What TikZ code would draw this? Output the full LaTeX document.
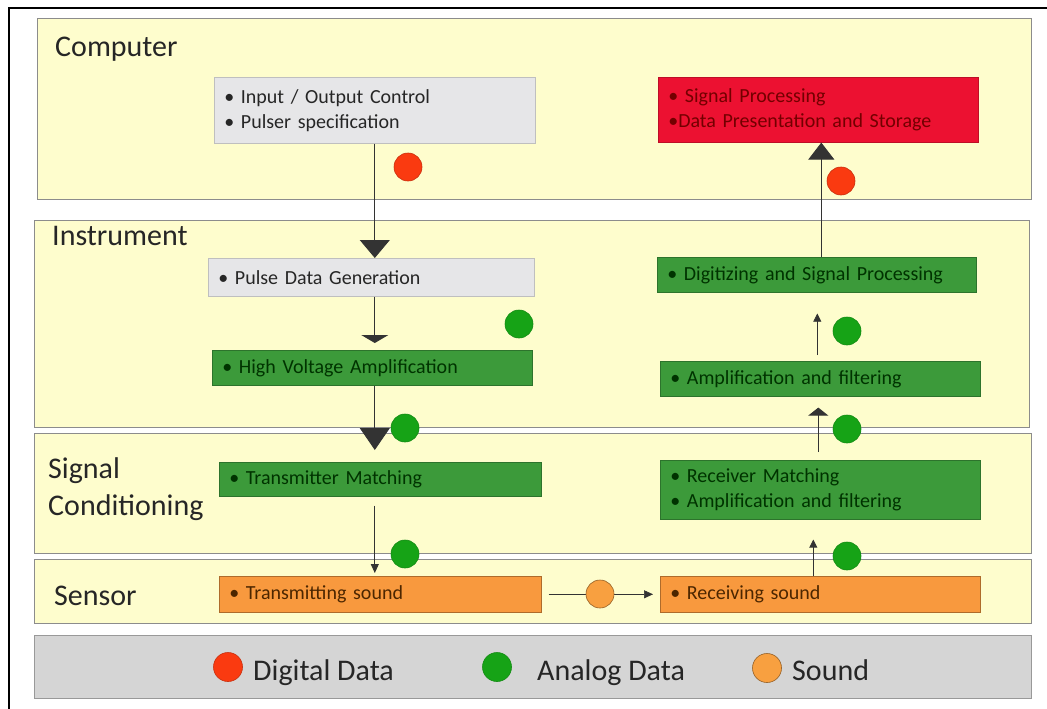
\documentclass[tikz,border=0pt]{standalone}
\usepackage{fontspec}
\setmainfont{Carlito}
\usetikzlibrary{arrows.meta}
\definecolor{bandyellow}{HTML}{FEFDCD}
\definecolor{boxgray}{HTML}{E6E6E8}
\definecolor{boxgreen}{HTML}{3C9A3A}
\definecolor{boxred}{HTML}{EC1131}
\definecolor{boxorange}{HTML}{F8993E}
\definecolor{legendgray}{HTML}{D5D5D5}
\definecolor{dotred}{HTML}{FA3A10}
\definecolor{dotgreen}{HTML}{16A316}
\definecolor{dotorange}{HTML}{F8A040}
\tikzset{
  band/.style={draw=black!45, line width=0.8pt, fill=bandyellow},
  bandlabel/.style={anchor=base west, inner sep=0pt, font=\fontsize{30}{37}\selectfont, text=black!85, align=left},
  box/.style={anchor=north west, inner xsep=10pt, inner ysep=0pt, align=left,
    font=\fontsize{20}{25}\selectfont, line width=0.6pt},
  graybox/.style={box, fill=boxgray, draw=black!25, text=black!85},
  greenbox/.style={box, fill=boxgreen, draw=boxgreen!75!black, text=black!80!green},
  redbox/.style={box, fill=boxred, draw=boxred!80!black, text=black!55!red},
  orangebox/.style={box, fill=boxorange, draw=boxorange!70!black, text=black!70!orange},
  conn/.style={draw=black!80, line width=0.9pt},
  dot/.style={circle, minimum size=28pt, inner sep=0pt, line width=0.6pt},
  rdot/.style={dot, fill=dotred, draw=dotred!80!black},
  gdot/.style={dot, fill=dotgreen, draw=dotgreen!85!black},
  odot/.style={dot, fill=dotorange, draw=dotorange!60!black},
  legtext/.style={anchor=base west, inner sep=0pt, font=\fontsize{30}{36}\selectfont, text=black!85}
}
\begin{document}
\begin{tikzpicture}[x=1pt,y=-1pt]
\useasboundingbox (0,0) rectangle (1047,709);
\fill[white] (0,0) rectangle (1047,709);
% outer frame
\draw[line width=1.5pt] (9,709) -- (9,8) -- (1047,8);
% bands
\draw[band] (37,18) rectangle (1031,199);
\draw[band] (34,220) rectangle (1029,427);
\draw[band] (34,433) rectangle (1031,553);
\draw[band] (34,559) rectangle (1031,623);
\draw[draw=black!40, line width=0.8pt, fill=legendgray] (34,635) rectangle (1031,698);
% band labels
\node[bandlabel] (lcomp) at (55,57) {Computer};
\node[bandlabel] (linst) at (52,245) {Instrument};
\node[bandlabel] (lsig) at (48,478) {Signal};
\node[bandlabel] (lcond) at (48,515) {Conditioning};
\node[bandlabel] (lsens) at (54,605) {Sensor};
% boxes
\node[graybox, text width=301pt, minimum height=66pt] (io) at (214,77) {• Input / Output Control\\• Pulser specification};
\node[redbox, text width=300pt, minimum height=65pt] (sp) at (658,77) {• Signal Processing\\•Data Presentation and Storage};
\node[graybox, text width=306pt, minimum height=38pt] (pulse) at (208,258) {• Pulse Data Generation};
\node[greenbox, text width=300pt, minimum height=35pt] (hv) at (212,350) {• High Voltage Amplification};
\node[greenbox, text width=299pt, minimum height=35pt] (dig) at (657,257) {• Digitizing and Signal Processing};
\node[greenbox, text width=300pt, minimum height=35pt] (amp) at (660,361) {• Amplification and filtering};
\node[greenbox, text width=302pt, minimum height=34pt] (tm) at (219,462) {• Transmitter Matching};
\node[greenbox, text width=300pt, minimum height=59pt] (rm) at (660,460) {• Receiver Matching\\• Amplification and filtering};
\node[orangebox, text width=302pt, minimum height=36pt] (ts) at (219,576) {• Transmitting sound};
\node[orangebox, text width=300pt, minimum height=36pt] (rs) at (660,576) {• Receiving sound};
% connectors, left column
\draw[conn, -{Triangle[width=30pt,length=18pt]}] (io.south) -- (io.south |- pulse.north);
\draw[conn, -{Triangle[width=27pt,length=8pt]}, shorten >=7pt] (io.south |- pulse.south) -- (io.south |- hv.north);
\draw[conn, -{Triangle[width=30pt,length=22pt]}, shorten >=12pt] (io.south |- hv.south) -- (io.south |- tm.north);
\draw[conn, -{Triangle[width=8pt,length=9pt]}, shorten <=9pt, shorten >=3pt] (io.south |- tm.south) -- (io.south |- ts.north);
% sound
\draw[conn, line width=0.6pt, -{Triangle[width=8pt,length=9pt]}, shorten <=7pt, shorten >=7pt] (ts.east) -- (rs.west);
% right column
\draw[conn, -{Triangle[width=8pt,length=8pt]}, shorten >=20pt] ([xshift=-7pt]rs.north) -- ([xshift=-7pt]rm.south);
\draw[conn, -{Triangle[width=20pt,length=8pt]}, shorten <=8pt, shorten >=11pt] ([xshift=-2pt]rm.north) -- ([xshift=-2pt]amp.south);
\draw[conn, line width=0.6pt, -{Triangle[width=8pt,length=8pt]}, shorten <=6pt, shorten >=21pt] ([xshift=-3pt]amp.north) -- ([xshift=-3pt]amp.north |- dig.south);
\draw[conn, -{Triangle[width=26pt,length=17pt]}] ([xshift=4.5pt]dig.north) -- ([xshift=4.5pt]dig.north |- sp.south);
% data dots
\node[rdot] (d1) at (408,167) {};
\node[rdot] (d2) at (841,181) {};
\node[gdot] (d3) at (519,324) {};
\node[gdot] (d4) at (405,428) {};
\node[gdot] (d5) at (405,554) {};
\node[odot] (d6) at (600,594) {};
\node[gdot] (d7) at (847,556) {};
\node[gdot] (d8) at (847,429) {};
\node[gdot] (d9) at (847,331) {};
% legend
\node[rdot, minimum size=29pt] (lg1) at (228,667) {};
\node[legtext] (lt1) at (253,680) {Digital Data};
\node[gdot, minimum size=29pt] (lg2) at (497,667) {};
\node[legtext] (lt2) at (537,680) {Analog Data};
\node[odot, minimum size=29pt] (lg3) at (767,668) {};
\node[legtext] (lt3) at (792,680) {Sound};
\end{tikzpicture}
\end{document}
